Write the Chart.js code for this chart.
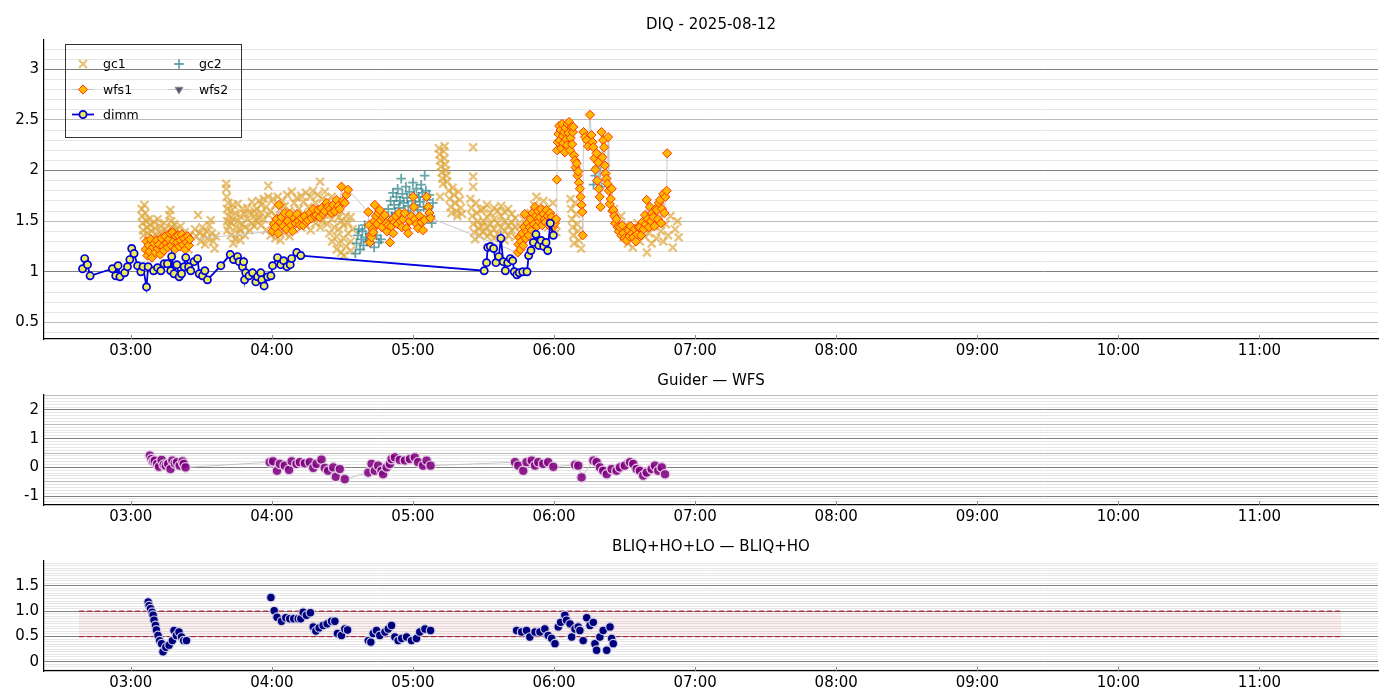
<!DOCTYPE html>
<html>
<head>
<meta charset="utf-8">
<script src="https://cdn.jsdelivr.net/npm/chart.js@4.4.1/dist/chart.umd.min.js"></script>
<style>
  html, body { margin: 0; padding: 0; background: #fff; overflow: hidden; }
  #wrap { position: relative; width: 1400px; height: 700px; }
  canvas { position: absolute; left: 0; }
</style>
</head>
<body>
<div id="wrap">
  <canvas id="diq" width="1400" height="365" style="top:0"></canvas>
  <canvas id="guider" width="1400" height="165" style="top:365px"></canvas>
  <canvas id="bliq" width="1400" height="170" style="top:530px"></canvas>
</div>
<script>
/* DIQ night summary – three stacked panels, x in minutes after 00:00 UT */

// ── Data ────────────────────────────────────────────────────────────────
const hourTicks = ['03:00', '04:00', '05:00', '06:00', '07:00', '08:00', '09:00', '10:00', '11:00'];

const diqYTicks = [0.5, 1, 1.5, 2, 2.5, 3];
const diqYLabels = ['0.5', '1', '1.5', '2', '2.5', '3'];
const guiderYTicks = [-1, 0, 1, 2];
const guiderYLabels = ['-1', '0', '1', '2'];
const bliqYTicks = [0, 0.5, 1.0, 1.5];
const bliqYLabels = ['0', '0.5', '1.0', '1.5'];

// [minutes, value]
const gc1 = [
  [184.6,1.62],[184.8,1.55],[185.0,1.48],[185.2,1.41],[185.5,1.36],[185.8,1.66],[186.2,1.58],[186.5,1.50],
  [186.9,1.44],[187.3,1.38],[187.8,1.52],[188.3,1.46],[188.8,1.40],[189.4,1.34],[189.9,1.49],[190.4,1.43],
  [190.9,1.37],[191.4,1.52],[192.0,1.31],[192.5,1.45],[193.1,1.40],[193.7,1.35],[194.2,1.48],[194.8,1.42],
  [195.3,1.33],[195.9,1.38],[196.4,1.56],[196.8,1.61],[197.2,1.50],[197.6,1.44],[198.0,1.40],[198.5,1.47],
  [199.0,1.34],[199.5,1.42],[200.1,1.28],[200.6,1.37],[201.2,1.45],[201.7,1.31],[202.3,1.25],[202.9,1.39],
  [203.4,1.33],[204.0,1.27],[204.5,1.22],[205.0,1.36],
  [207.3,1.42],[207.8,1.35],[208.6,1.56],[209.2,1.38],[209.8,1.30],[210.4,1.44],[211.0,1.36],[211.6,1.27],
  [212.2,1.40],[212.8,1.33],[213.4,1.46],[214.0,1.51],[214.5,1.38],[215.0,1.30],[215.6,1.23],[216.2,1.35],
  [220.6,1.87],[220.6,1.82],[220.8,1.74],[220.9,1.62],[221.0,1.50],[221.1,1.41],[221.5,1.68],[221.6,1.55],
  [221.7,1.45],[222.5,1.60],[222.5,1.49],[222.6,1.36],[223.5,1.66],[223.5,1.52],[223.6,1.28],[224.5,1.58],
  [224.5,1.44],[224.6,1.33],[225.5,1.67],[225.5,1.50],[225.6,1.38],[226.5,1.55],[226.5,1.42],[226.6,1.31],
  [227.5,1.62],[227.5,1.47],[228.5,1.57],[228.5,1.36],[228.6,1.44],[229.5,1.63],[229.5,1.52],[230.5,1.58],
  [230.5,1.41],[231.5,1.69],[231.5,1.48],[232.5,1.55],[232.5,1.45],[232.6,1.60],[233.5,1.62],[233.5,1.50],
  [234.5,1.70],[234.5,1.53],[235.5,1.66],[235.5,1.46],[235.6,1.58],[236.5,1.72],[236.5,1.52],[237.5,1.64],
  [237.5,1.41],[238.5,1.85],[238.5,1.74],[238.6,1.56],[239.5,1.60],[239.5,1.36],[240.5,1.72],[240.5,1.46],
  [241.5,1.66],[241.5,1.33],[241.6,1.55],[242.5,1.74],[242.5,1.40],[243.5,1.62],[243.5,1.48],[243.6,1.31],
  [244.5,1.70],[244.5,1.55],[245.5,1.65],[245.5,1.38],[246.5,1.76],[246.5,1.46],[247.5,1.60],[247.5,1.35],
  [248.5,1.79],[248.5,1.52],[249.5,1.68],[249.5,1.42],[250.5,1.73],[250.5,1.58],[251.5,1.62],[251.5,1.48],
  [252.5,1.75],[252.5,1.44],[253.5,1.69],[253.5,1.55],[254.5,1.78],[254.5,1.46],[255.5,1.64],[255.5,1.52],
  [256.5,1.74],[256.5,1.41],[257.5,1.80],[257.5,1.58],[258.5,1.68],[258.5,1.48],[259.5,1.76],[259.5,1.53],
  [260.5,1.89],[260.5,1.62],[260.6,1.44],[261.5,1.72],[261.5,1.50],[262.5,1.79],[262.5,1.56],[263.5,1.70],
  [263.5,1.47],[264.5,1.66],[264.5,1.38],[265.5,1.74],[265.5,1.52],[265.6,1.30],[266.5,1.62],[266.5,1.44],
  [267.5,1.58],[267.5,1.35],[267.6,1.22],[268.5,1.54],[268.5,1.42],[268.6,1.28],[269.5,1.50],[269.5,1.19],
  [270.5,1.46],[270.5,1.33],[270.6,1.16],[271.5,1.55],[271.5,1.25],[272.5,1.48],[272.5,1.38],[273.5,1.54],
  [273.5,1.30],[273.6,1.21],[274.3,1.42],
  [311.0,2.22],[311.3,2.16],[311.5,1.74],[311.6,2.10],[311.9,2.04],[312.2,1.98],[312.5,1.92],[312.8,1.87],
  [313.1,2.19],[313.4,2.12],[313.5,2.24],[313.7,2.06],[314.0,2.00],[314.3,1.95],[314.6,1.89],
  [315.2,1.80],[315.6,1.72],[316.0,1.64],[316.4,1.58],[316.9,1.83],[317.4,1.76],[317.9,1.68],[318.4,1.60],
  [318.9,1.55],[319.4,1.79],[319.9,1.71],[320.4,1.63],[320.9,1.57],
  [324.4,1.72],[324.8,1.63],[325.2,1.55],[325.6,2.23],[325.6,1.94],[325.6,1.84],[325.6,1.47],[326.0,1.39],
  [326.4,1.32],[326.8,1.68],[327.2,1.58],[327.6,1.50],[328.0,1.43],[328.4,1.36],[328.8,1.61],[329.2,1.45],
  [330.0,1.62],[330.0,1.50],[330.0,1.40],[331.5,1.66],[331.5,1.54],[331.5,1.44],[331.5,1.35],[333.0,1.58],
  [333.0,1.47],[333.0,1.38],[334.5,1.63],[334.5,1.52],[334.5,1.42],[334.5,1.33],[336.0,1.60],[336.0,1.48],
  [336.0,1.37],[337.5,1.65],[337.5,1.55],[337.5,1.44],[339.0,1.59],[339.0,1.50],[339.0,1.40],[339.0,1.31],
  [340.5,1.62],[340.5,1.46],[340.5,1.36],[342.0,1.57],[342.0,1.49],[342.0,1.41],[343.5,1.53],[343.5,1.44],
  [343.5,1.34],
  [345.5,1.45],[347.0,1.52],[348.5,1.40],[350.0,1.58],[351.5,1.66],[352.5,1.74],[353.5,1.60],[354.5,1.50],
  [355.5,1.70],[356.5,1.62],[357.5,1.44],[358.5,1.55],[359.5,1.68],[360.5,1.47],[361.0,1.39],
  [367.0,1.72],[367.3,1.62],[367.6,1.52],[367.9,1.44],[368.2,1.36],[368.5,1.28],[369.0,1.68],[369.4,1.57],
  [369.8,1.47],[370.2,1.40],[370.6,1.31],[371.5,1.23],
  [385.5,1.62],[386.5,1.50],[387.5,1.42],[388.5,1.55],[389.5,1.34],[390.5,1.46],[391.5,1.28],[392.5,1.40],
  [393.5,1.24],[394.5,1.36],[395.5,1.48],[396.5,1.30],[397.5,1.43],[398.5,1.35],[399.5,1.19],[400.5,1.38],
  [401.5,1.28],[402.5,1.45],[403.5,1.33],[404.5,1.52],[405.5,1.40],[406.5,1.30],[407.5,1.47],[408.5,1.36],
  [409.5,1.55],[410.5,1.24],[411.5,1.42],[412.5,1.50],[413.0,1.34]
];

const gc2 = [
  [275.5,1.18],[276.0,1.28],[276.5,1.36],[277.0,1.42],[277.5,1.22],[278.0,1.32],[278.5,1.40],[279.0,1.26],
  [279.5,1.46],[280.0,1.34],[280.5,1.30],[281.5,1.38],[282.5,1.44],[283.5,1.24],[284.5,1.36],[285.5,1.29],
  [286.4,1.32],
  [289.5,1.62],[290.5,1.70],[291.0,1.55],[291.5,1.78],[292.0,1.66],[292.5,1.58],[293.0,1.74],[293.5,1.82],
  [294.0,1.63],[294.5,1.70],[295.0,1.92],[295.5,1.77],[296.0,1.68],[296.5,1.60],[297.0,1.84],[297.5,1.73],
  [298.0,1.65],[298.5,1.79],[299.0,1.58],[299.5,1.70],[300.0,1.88],[300.5,1.76],[301.0,1.66],[301.5,1.82],
  [302.0,1.61],[302.5,1.74],[303.0,1.69],[303.5,1.86],[304.0,1.78],[304.5,1.64],[305.0,1.95],[305.5,1.80],
  [306.0,1.71],[306.5,1.62],[307.0,1.76],[307.5,1.55],[308.0,1.48],[308.5,1.68],
  [376.8,1.86],[377.5,1.95],[378.2,2.03],[378.9,1.90],[379.6,1.98],[380.2,1.84]
];

const wfs1 = [
  [186.3,1.22],[186.7,1.30],[187.1,1.16],[187.6,1.26],[188.0,1.20],[188.5,1.32],[189.0,1.14],[189.5,1.24],
  [190.0,1.28],[190.5,1.19],[191.0,1.31],[191.5,1.23],[192.0,1.27],[192.6,1.17],[193.1,1.33],[193.6,1.25],
  [194.1,1.21],[194.7,1.35],[195.2,1.28],[195.7,1.24],[196.2,1.32],[196.7,1.38],[197.2,1.26],[197.7,1.39],
  [198.2,1.30],[198.7,1.22],[199.2,1.35],[199.7,1.29],[200.2,1.36],[200.7,1.25],[201.2,1.31],[201.7,1.37],
  [202.2,1.27],[202.7,1.33],[203.2,1.22],[203.7,1.29],[204.2,1.35],[204.7,1.26],[205.1,1.32],
  [240.3,1.40],[240.8,1.47],[241.5,1.44],[242.0,1.52],[242.7,1.38],[243.0,1.66],[243.6,1.49],[244.1,1.54],
  [244.8,1.45],[245.5,1.58],[246.2,1.42],[246.8,1.50],[247.6,1.57],[248.2,1.46],[248.8,1.40],[249.5,1.53],
  [250.1,1.48],[250.7,1.57],[251.3,1.50],[251.9,1.46],[252.6,1.53],[253.3,1.46],[254.0,1.55],[254.7,1.49],
  [255.4,1.51],[256.2,1.58],[256.9,1.53],[257.6,1.62],[258.3,1.55],[259.0,1.56],[259.7,1.61],[260.4,1.54],
  [261.1,1.63],[261.8,1.57],[262.5,1.60],[263.3,1.68],[263.9,1.64],[264.7,1.62],[265.4,1.58],[266.1,1.66],
  [266.8,1.60],[267.5,1.71],[268.2,1.65],[268.9,1.62],[269.6,1.84],[270.3,1.70],[271.0,1.68],[271.7,1.76],
  [272.4,1.81],
  [281.0,1.59],[281.4,1.46],[281.7,1.29],[282.1,1.36],[282.4,1.34],[282.8,1.42],[283.1,1.39],[283.5,1.50],
  [283.8,1.66],[284.3,1.55],[284.8,1.47],[285.3,1.58],[285.9,1.61],[286.3,1.51],[286.8,1.44],[287.3,1.54],
  [288.0,1.56],[288.6,1.48],[289.0,1.40],[289.5,1.46],[290.2,1.29],[290.8,1.45],[291.3,1.52],[291.6,1.38],
  [292.2,1.49],[292.8,1.55],[293.4,1.47],[294.1,1.58],[294.7,1.50],[295.3,1.44],[295.8,1.52],[296.5,1.58],
  [297.3,1.43],[298.0,1.38],[298.6,1.50],[299.3,1.55],[300.1,1.74],[300.4,1.64],[300.8,1.52],[301.5,1.47],
  [302.2,1.43],[302.9,1.55],[303.6,1.49],[304.3,1.41],[305.0,1.51],[305.8,1.74],[306.5,1.64],[307.0,1.58],
  [307.5,1.53],
  [344.6,1.19],[344.9,1.27],[345.3,1.34],[345.7,1.22],[346.1,1.30],[346.5,1.38],[346.9,1.26],[347.3,1.44],
  [347.6,1.57],[348.0,1.33],[348.4,1.40],[348.8,1.48],[349.2,1.36],[349.7,1.44],[350.1,1.52],[350.5,1.41],
  [350.9,1.58],[351.4,1.47],[351.9,1.64],[352.3,1.55],[352.8,1.45],[353.2,1.60],[353.6,1.50],[354.0,1.54],
  [354.5,1.62],[355.0,1.46],[355.5,1.57],[356.0,1.52],[356.4,1.49],[356.8,1.61],[357.3,1.55],[357.8,1.46],
  [358.3,1.58],[358.7,1.51],[359.0,1.54],[359.5,1.44],[360.0,1.50],[360.4,1.48],[360.9,1.52],[361.2,1.91],
  [361.3,2.20],[361.6,2.28],[361.9,2.36],[362.2,2.44],[362.5,2.30],[362.8,2.40],[363.1,2.22],[363.4,2.46],
  [363.7,2.34],[364.0,2.27],[364.3,2.38],[364.6,2.18],[364.9,2.42],[365.2,2.31],[365.5,2.25],[365.8,2.46],
  [366.1,2.37],[366.4,2.48],[366.8,2.20],[367.1,2.32],[367.4,2.43],[367.7,2.26],[368.0,2.38],[368.2,2.43],
  [368.5,2.15],[368.9,2.10],[369.2,2.03],[369.6,2.07],[370.0,1.95],[370.3,1.99],[370.6,1.88],[371.0,1.82],
  [371.3,1.74],[371.7,1.66],[372.0,1.59],[372.2,1.36],
  [372.5,2.38],[373.2,2.33],[373.9,2.30],[374.5,2.24],[375.3,2.55],[375.9,2.35],[376.4,2.28],[376.7,2.23],
  [377.2,2.12],[377.6,2.01],[378.1,2.17],[378.4,1.90],[378.8,2.08],[379.1,1.82],[379.4,1.74],[379.8,1.64],
  [380.2,2.38],[380.6,2.13],[380.9,2.30],[381.3,2.23],[381.6,2.05],[381.9,1.97],[382.3,1.92],[382.7,1.87],
  [383.0,2.33],[383.3,1.80],[383.7,1.67],[384.1,1.72],[384.5,1.82],[384.8,1.60],[385.2,1.61],[385.6,1.55],
  [386.0,1.48],[386.6,1.52],[387.1,1.44],[387.6,1.40],[388.0,1.44],[388.6,1.36],[389.0,1.46],[389.4,1.38],
  [390.0,1.33],[390.8,1.31],[391.2,1.42],[391.6,1.41],[392.1,1.35],[392.6,1.45],[393.2,1.38],[393.7,1.34],
  [394.3,1.42],[394.8,1.30],[395.3,1.37],[395.9,1.44],[396.5,1.44],[397.0,1.36],[397.6,1.49],[398.1,1.42],
  [398.7,1.56],[399.0,1.47],[399.4,1.71],[399.9,1.52],[400.4,1.44],[400.8,1.64],[401.3,1.50],[401.7,1.58],
  [402.2,1.54],[402.7,1.45],[403.2,1.62],[403.7,1.61],[404.2,1.52],[404.6,1.68],[405.1,1.71],[405.5,1.48],
  [405.9,1.62],[406.5,1.77],[406.9,1.58],[407.4,1.74],[407.9,1.80],[408.1,2.17]
];

const wfs2 = [];

const dimm = [
  [159.5,1.03],[160.4,1.13],[161.6,1.07],[162.7,0.96],[172.2,1.03],[173.6,0.96],[174.6,1.06],[175.4,0.95],
  [177.4,0.99],[178.6,1.05],[179.6,1.12],[180.4,1.23],[181.4,1.18],[182.9,1.06],[184.3,1.00],[185.2,1.05],
  [186.7,0.85],[187.4,1.05],[189.7,1.01],[191.4,1.04],[192.8,1.01],[194.2,1.08],[195.6,1.08],[197.0,1.01],
  [197.4,1.15],[198.4,0.98],[199.6,1.07],[200.6,0.95],[201.6,0.98],[202.7,1.05],[203.4,1.14],[204.6,1.05],
  [205.5,1.01],[206.9,1.10],[208.4,1.13],[209.1,0.98],[210.5,0.96],[211.5,1.01],[212.6,0.92],[218.3,1.06],
  [222.3,1.17],[223.7,1.12],[225.4,1.15],[226.1,1.10],[227.5,1.05],[228.0,1.10],[228.4,0.92],[228.9,0.99],
  [230.3,0.96],[231.8,0.99],[233.2,0.90],[233.9,0.95],[235.3,0.99],[235.7,0.92],[236.7,0.86],[238.2,0.95],
  [239.6,0.96],[240.3,1.06],[242.4,1.14],[243.8,1.07],[245.0,1.11],[246.4,1.05],[247.8,1.07],[248.4,1.13],
  [250.6,1.19],[252.3,1.16],
  [330.3,1.01],[331.3,1.09],[331.8,1.24],[332.9,1.25],[334.3,1.23],[335.3,1.09],[336.5,1.15],[337.4,1.33],
  [338.4,1.10],[339.3,1.01],[340.3,1.09],[341.4,1.13],[342.4,1.11],[343.1,1.00],[344.2,0.97],[345.2,0.99],
  [346.7,1.00],[348.5,1.00],[349.2,1.16],[350.2,1.21],[351.2,1.29],[352.3,1.37],[353.5,1.26],[354.5,1.31],
  [355.6,1.25],[356.6,1.29],[357.3,1.21],[358.4,1.48],[359.7,1.36]
];

const guider = [
  [188.1,0.41],[188.8,0.29],[189.5,0.21],[190.2,0.24],[191.2,0.12],[192.0,0.02],[193.1,0.26],[194.0,0.09],
  [194.9,0.06],[195.9,0.12],[196.9,-0.06],[197.7,0.24],[198.7,0.14],[199.7,0.18],[200.8,0.06],[202.0,0.21],
  [202.5,0.12],[203.3,0.00],
  [239.1,0.18],[240.5,0.21],[242.2,-0.12],[243.4,0.12],[245.5,0.06],[247.3,-0.09],[248.4,0.21],[250.5,0.12],
  [251.9,0.18],[254.0,0.14],[256.1,0.18],[257.6,-0.02],[259.0,0.12],[261.1,0.27],[262.5,-0.02],[263.9,-0.12],
  [266.1,0.00],[267.2,-0.33],[268.9,-0.06],[271.0,-0.41],
  [281.0,-0.18],[282.4,0.12],[283.8,-0.12],[285.2,0.06],[286.6,-0.12],[287.3,-0.24],[288.8,0.00],[290.2,0.12],
  [290.9,0.29],[292.3,0.35],[294.4,0.26],[296.6,0.24],[298.7,0.29],[300.8,0.35],[302.2,0.18],[304.3,0.06],
  [305.8,0.24],[307.5,0.06],
  [343.4,0.18],[344.8,0.06],[346.9,-0.12],[348.3,0.18],[350.5,0.24],[351.9,0.06],[353.3,0.18],[355.4,0.12],
  [357.5,0.18],[359.7,0.02],
  [368.9,0.09],[370.3,0.06],[371.7,-0.35],
  [376.7,0.24],[378.1,0.18],[379.5,0.00],[380.9,-0.12],[382.4,-0.24],[384.5,-0.06],[386.6,-0.12],[388.0,0.00],
  [390.1,0.06],[392.3,0.18],[393.7,0.12],[395.1,-0.06],[396.5,-0.12],[397.9,-0.29],[399.4,-0.18],[401.5,-0.06],
  [402.9,0.06],[404.3,-0.12],[405.8,0.00],[407.2,-0.24]
];

const bliq = [
  [187.4,1.18],[187.8,1.11],[188.4,1.05],[189.1,0.98],[189.5,0.92],[189.9,0.82],[190.5,0.72],[190.9,0.63],
  [191.6,0.52],[192.3,0.42],[193.1,0.36],[193.7,0.20],[194.9,0.29],[196.3,0.33],[197.7,0.42],[198.4,0.62],
  [199.4,0.52],[200.5,0.59],[201.6,0.49],[202.5,0.42],[203.7,0.42],
  [239.6,1.27],[241.0,1.01],[242.2,0.88],[244.1,0.80],[245.9,0.87],[247.6,0.85],[249.3,0.85],[251.2,0.85],
  [252.3,0.85],[253.3,0.98],[254.7,0.92],[256.4,0.97],[257.6,0.69],[258.7,0.61],[260.1,0.67],[261.8,0.72],
  [263.5,0.75],[265.4,0.80],[266.8,0.80],[267.9,0.56],[269.6,0.52],[271.0,0.65],[272.2,0.63],
  [281.0,0.42],[282.1,0.39],[283.1,0.56],[284.5,0.62],[285.9,0.52],[288.1,0.59],[289.5,0.65],[290.9,0.72],
  [292.3,0.49],[293.7,0.42],[295.2,0.46],[297.3,0.49],[299.4,0.42],[301.5,0.46],[302.9,0.59],[305.1,0.65],
  [307.5,0.62],
  [344.1,0.62],[346.2,0.59],[348.3,0.62],[349.7,0.49],[351.9,0.59],[354.0,0.59],[356.1,0.65],[357.5,0.52],
  [359.0,0.46],[360.4,0.36],
  [361.8,0.69],[362.8,0.78],[364.6,0.92],[365.3,0.82],[366.8,0.75],[367.5,0.49],[368.9,0.65],[370.3,0.69],
  [371.0,0.62],[372.4,0.42],[373.9,0.87],[375.3,0.72],[376.7,0.78],[377.4,0.36],[378.1,0.23],[379.5,0.49],
  [380.9,0.62],[382.4,0.23],[383.8,0.69],[384.5,0.46],[385.2,0.36]
];

// target band drawn on the BLIQ panel
const bandTimes = [158.0, 694.7];
const bandLimits = [0.5, 1.0];

// ── Helpers ────────────────────────────────────────────────────────────
Chart.defaults.font.family = "'DejaVu Sans', sans-serif";
Chart.defaults.font.size = 15;
Chart.defaults.color = '#000';

const X_RANGE = [143.1, 710.4];
const toMin = s => { const [h, m] = s.split(':').map(Number); return h * 60 + m; };
const fmtMin = v => {
  const h = Math.floor(v / 60), m = Math.round(v - h * 60);
  return String(h).padStart(2, '0') + ':' + String(m).padStart(2, '0');
};
const pts = arr => arr.map(([x, y]) => ({ x, y }));
const isMult = (v, step) => Math.abs(v / step - Math.round(v / step)) < 1e-6;

/* marcas de tick hacia dentro sobre el eje X */
const innerTicks = {
  id: 'innerTicks',
  afterDraw(chart) {
    const { ctx, chartArea, scales: { x } } = chart;
    ctx.save();
    ctx.strokeStyle = '#8c8c8c';
    ctx.lineWidth = 1;
    x.ticks.forEach(t => {
      const px = Math.round(x.getPixelForValue(t.value)) + 0.5;
      ctx.beginPath();
      ctx.moveTo(px, chartArea.bottom);
      ctx.lineTo(px, chartArea.bottom - 4);
      ctx.stroke();
    });
    ctx.restore();
  },
};

/* leyenda en dos columnas dentro del área del gráfico */
const diqLegend = {
  id: 'diqLegend',
  afterDatasetsDraw(chart) {
    const { ctx } = chart;
    const byLabel = Object.fromEntries(chart.data.datasets.map(d => [d.label, d]));
    const slots = [['gc1', 83, 64], ['gc2', 179, 64], ['wfs1', 83, 89.5], ['wfs2', 179, 89.5], ['dimm', 83, 114.5]];
    ctx.save();
    ctx.strokeStyle = '#333';
    ctx.lineWidth = 1;
    ctx.strokeRect(65.5, 44.5, 176, 93);
    slots.forEach(([name, x, y]) => {
      const d = byLabel[name];
      if (d.showLine) {
        ctx.strokeStyle = d.borderColor;
        ctx.lineWidth = d.borderWidth;
        ctx.beginPath();
        ctx.moveTo(x - 11, y);
        ctx.lineTo(x + 11, y);
        ctx.stroke();
      }
      ctx.fillStyle = d.pointBackgroundColor;
      ctx.strokeStyle = d.pointBorderColor;
      ctx.lineWidth = d.pointBorderWidth;
      Chart.helpers.drawPoint(ctx, {
        pointStyle: d.pointStyle, radius: d.pointRadius,
        rotation: d.pointRotation || 0, borderWidth: d.pointBorderWidth,
      }, x, y);
      ctx.fillStyle = '#000';
      ctx.font = "12.5px 'DejaVu Sans'";
      ctx.textBaseline = 'middle';
      ctx.fillText(name, x + 20, y + 1);
    });
    ctx.restore();
  },
};

function xAxis(height) {
  return {
    type: 'linear',
    min: X_RANGE[0],
    max: X_RANGE[1],
    afterBuildTicks: s => { s.ticks = hourTicks.map(h => ({ value: toMin(h) })); },
    afterFit: s => { s.height = height; },
    ticks: { callback: v => fmtMin(v), autoSkip: false, maxRotation: 0, padding: 3, color: '#000' },
    grid: { display: false, drawTicks: false },
    border: { display: true, color: '#000', width: 1.2 },
  };
}

function yAxis(min, max, minorStep, majorStep, midStep, tickVals, tickLabels) {
  return {
    type: 'linear',
    min, max,
    afterBuildTicks: s => {
      const t = [];
      for (let v = Math.ceil(min / minorStep) * minorStep; v <= max + 1e-9; v += minorStep) {
        t.push({ value: Math.round(v * 1000) / 1000 });
      }
      s.ticks = t;
    },
    afterFit: s => { s.width = 44; },
    ticks: {
      autoSkip: false, padding: 5, color: '#000',
      callback: v => {
        const i = tickVals.findIndex(t => Math.abs(t - v) < 1e-6);
        return i >= 0 ? tickLabels[i] : '';
      },
    },
    grid: {
      drawTicks: false,
      lineWidth: 1,
      color: c => {
        const v = c.tick ? c.tick.value : 0;
        if (isMult(v, majorStep)) return '#808080';
        if (midStep && isMult(v, midStep)) return '#bababa';
        return '#e6e6e6';
      },
    },
    border: { display: true, color: '#000', width: 1.2 },
  };
}

function panel(id, { title, titlePad, xHeight, y, datasets, plugins = [] }) {
  return new Chart(document.getElementById(id), {
    type: 'scatter',
    data: { datasets },
    options: {
      responsive: false,
      animation: false,
      events: [],
      layout: { padding: { left: 0, right: 22, top: 0, bottom: 0 } },
      plugins: {
        legend: { display: false },
        tooltip: { enabled: false },
        title: {
          display: true, text: title, fullSize: false, color: '#000',
          font: { size: 15, weight: 'normal' }, padding: titlePad,
        },
      },
      scales: { x: xAxis(xHeight), y },
    },
    plugins: [innerTicks, ...plugins],
  });
}

// ── Panel 1: DIQ ───────────────────────────────────────────────────────
panel('diq', {
  title: 'DIQ - 2025-08-12',
  titlePad: { top: 16, bottom: 6 },
  xHeight: 26,
  y: yAxis(0.336, 3.289, 0.1, 1, 0.5, diqYTicks, diqYLabels),
  plugins: [diqLegend],
  datasets: [
    {
      label: 'dimm', data: pts(dimm), order: 0, showLine: true,
      borderColor: '#0000dd', borderWidth: 1.8,
      pointStyle: 'circle', pointRadius: 3.6, pointBorderWidth: 1.7,
      pointBackgroundColor: '#ecec58', pointBorderColor: '#0000dd',
    },
    {
      label: 'wfs2', data: pts(wfs2), order: 1, showLine: true,
      borderColor: '#c8c8c8', borderWidth: 1,
      pointStyle: 'triangle', pointRotation: 180, pointRadius: 4.5, pointBorderWidth: 1,
      pointBackgroundColor: '#555566', pointBorderColor: '#8a8a9a',
    },
    {
      label: 'wfs1', data: pts(wfs1), order: 2, showLine: true,
      borderColor: '#c8c8c8', borderWidth: 1,
      pointStyle: 'rectRot', pointRadius: 4.6, pointBorderWidth: 1,
      pointBackgroundColor: '#ffb800', pointBorderColor: '#ff3400',
    },
    {
      label: 'gc2', data: pts(gc2), order: 3, showLine: false,
      pointStyle: 'cross', pointRadius: 4.8, pointBorderWidth: 1.8,
      pointBackgroundColor: 'rgba(40,128,132,0.7)', pointBorderColor: 'rgba(40,128,132,0.7)',
    },
    {
      label: 'gc1', data: pts(gc1), order: 4, showLine: false,
      pointStyle: 'crossRot', pointRadius: 5.6, pointBorderWidth: 2.2,
      pointBackgroundColor: 'rgba(222,166,60,0.7)', pointBorderColor: 'rgba(222,166,60,0.7)',
    },
  ],
});

// ── Panel 2: Guider — WFS ──────────────────────────────────────────────
panel('guider', {
  title: 'Guider — WFS',
  titlePad: { top: 7, bottom: 5 },
  xHeight: 25,
  y: yAxis(-1.31, 2.52, 0.1, 1, 0.5, guiderYTicks, guiderYLabels),
  datasets: [
    {
      label: 'guider', data: pts(guider), showLine: true,
      borderColor: '#c4c4c4', borderWidth: 1,
      pointStyle: 'circle', pointRadius: 4.8, pointBorderWidth: 1.4,
      pointBackgroundColor: 'rgba(128,0,128,0.88)', pointBorderColor: 'rgba(228,206,228,0.95)',
    },
  ],
});

// ── Panel 3: BLIQ+HO+LO — BLIQ+HO ──────────────────────────────────────
panel('bliq', {
  title: 'BLIQ+HO+LO — BLIQ+HO',
  titlePad: { top: 8, bottom: 5 },
  xHeight: 29,
  y: yAxis(-0.18, 1.99, 0.05, 0.5, null, bliqYTicks, bliqYLabels),
  datasets: [
    {
      label: 'bliq', data: pts(bliq), order: 0, showLine: false,
      pointStyle: 'circle', pointRadius: 4.3, pointBorderWidth: 1.2,
      pointBackgroundColor: '#00007f', pointBorderColor: 'rgba(206,206,228,0.95)',
    },
    {
      label: 'upper', order: 1, showLine: true, pointRadius: 0,
      data: bandTimes.map(t => ({ x: t, y: bandLimits[1] })),
      borderColor: '#b2243a', borderWidth: 1.3, borderDash: [5, 3],
      fill: { target: { value: bandLimits[0] } }, backgroundColor: 'rgba(235,110,110,0.10)',
    },
    {
      label: 'lower', order: 2, showLine: true, pointRadius: 0,
      data: bandTimes.map(t => ({ x: t, y: bandLimits[0] })),
      borderColor: '#b2243a', borderWidth: 1.3, borderDash: [5, 3], fill: false,
    },
  ],
});
</script>
</body>
</html>
